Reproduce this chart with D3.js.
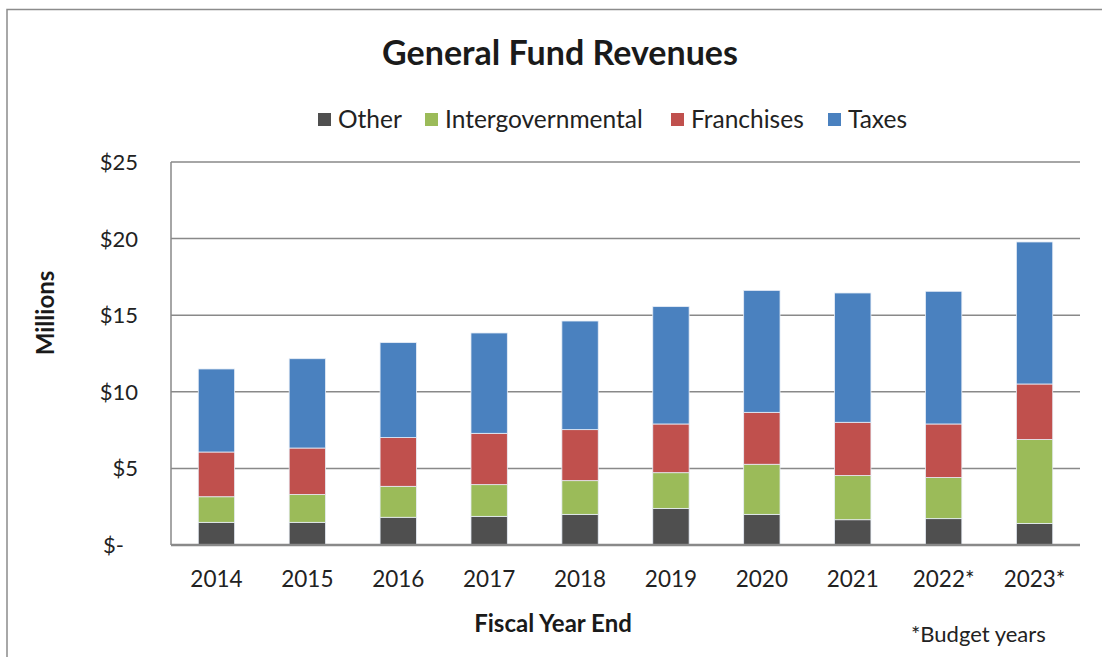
<!DOCTYPE html>
<html>
<head>
<meta charset="utf-8">
<script src="https://cdn.jsdelivr.net/npm/d3@7/dist/d3.min.js"></script>
<style>
  body { margin: 0; background: #fff; }
  svg { display: block; font-family: Lato, "Open Sans", sans-serif; }
</style>
</head>
<body>
<svg id="chart" width="1102" height="657"></svg>
<script>
// values in millions
var years = ["2014", "2015", "2016", "2017", "2018", "2019", "2020", "2021", "2022*", "2023*"];
var other = [1.48, 1.48, 1.81, 1.87, 2.00, 2.39, 2.00, 1.65, 1.72, 1.41];
var intergovernmental = [1.67, 1.81, 2.02, 2.07, 2.20, 2.33, 3.27, 2.88, 2.68, 5.47];
var franchises = [2.92, 3.04, 3.18, 3.35, 3.33, 3.18, 3.39, 3.48, 3.50, 3.63];
var taxes = [5.42, 5.83, 6.20, 6.55, 7.09, 7.66, 7.96, 8.44, 8.66, 9.27];
var seriesNames = ["Other", "Intergovernmental", "Franchises", "Taxes"];
var seriesColors = ["#4f4f4f", "#9bbb59", "#c0504d", "#4a81bf"];
var yTicks = [0, 5, 10, 15, 20, 25];

var svg = d3.select("#chart");
var margin = {left: 171, right: 22, top: 162, bottom: 112};
var width = 1102 - margin.left - margin.right;
var height = 657 - margin.top - margin.bottom;

// outer chart frame (only top and left edges show)
svg.append("path")
	.attr("d", "M7,657 L7,9.5 L1102,9.5")
	.attr("fill", "none")
	.attr("stroke", "#8c8c8c")
	.attr("stroke-width", 1.5);

var rows = years.map(function(y, i){
	return {year: y, Other: other[i], Intergovernmental: intergovernmental[i], Franchises: franchises[i], Taxes: taxes[i]};
});
var stacked = d3.stack().keys(seriesNames)(rows);

var x = d3.scaleBand().domain(years).range([0, width]).paddingInner(0.6).paddingOuter(0.3);
var y = d3.scaleLinear().domain([0, 25]).range([height, 0]);
var color = d3.scaleOrdinal().domain(seriesNames).range(seriesColors);

var g = svg.append("g").attr("transform", "translate(" + margin.left + "," + margin.top + ")");

// gridlines
g.selectAll(".grid").data(yTicks.slice(1)).enter().append("line")
	.attr("x1", 0).attr("x2", width)
	.attr("y1", function(d){ return y(d); })
	.attr("y2", function(d){ return y(d); })
	.attr("stroke", "#898989")
	.attr("stroke-width", 1.5);

// bars
g.selectAll(".series").data(stacked).enter().append("g")
	.attr("fill", function(d){ return color(d.key); })
	.selectAll("rect").data(function(d){ return d; }).enter().append("rect")
	.attr("x", function(d){ return x(d.data.year); })
	.attr("y", function(d){ return y(d[1]); })
	.attr("width", x.bandwidth())
	.attr("height", function(d){ return y(d[0]) - y(d[1]); })
	.attr("stroke", "#e8eef7")
	.attr("stroke-width", 0.8);

// axes lines
g.append("line").attr("x1", 0).attr("x2", 0).attr("y1", 0).attr("y2", height)
	.attr("stroke", "#898989").attr("stroke-width", 1.5);
g.append("line").attr("x1", 0).attr("x2", width).attr("y1", height).attr("y2", height)
	.attr("stroke", "#898989").attr("stroke-width", 2.5);

// y tick labels
g.selectAll(".ylab").data(yTicks).enter().append("text")
	.attr("x", function(d){ return d === 0 ? -47 : -33; })
	.attr("y", function(d){ return y(d); })
	.attr("dy", "0.36em")
	.attr("text-anchor", "end")
	.attr("font-size", 22)
	.attr("fill", "#222")
	.text(function(d){ return d === 0 ? "$-" : "$" + d; });

// x tick labels
g.selectAll(".xlab").data(years).enter().append("text")
	.attr("x", function(d){ return x(d) + x.bandwidth() / 2; })
	.attr("y", height + 42)
	.attr("text-anchor", "middle")
	.attr("font-size", 22.5)
	.attr("fill", "#222")
	.text(function(d){ return d; });

// titles
svg.append("text")
	.attr("x", 560).attr("y", 65)
	.attr("text-anchor", "middle")
	.attr("font-size", 34).attr("font-weight", "bold")
	.attr("fill", "#1a1a1a")
	.text("General Fund Revenues");

svg.append("text")
	.attr("x", 553).attr("y", 632)
	.attr("text-anchor", "middle")
	.attr("font-size", 24).attr("font-weight", "bold")
	.attr("fill", "#1a1a1a")
	.text("Fiscal Year End");

svg.append("text")
	.attr("transform", "translate(54,313) rotate(-90)")
	.attr("text-anchor", "middle")
	.attr("font-size", 24).attr("font-weight", "bold")
	.attr("fill", "#1a1a1a")
	.text("Millions");

svg.append("text")
	.attr("x", 911).attr("y", 642)
	.attr("font-size", 22)
	.attr("fill", "#222")
	.text("*Budget years");

// legend
var legendX = [318, 425, 671, 828];
var legend = svg.selectAll(".legend").data(seriesNames).enter().append("g")
	.attr("transform", function(d, i){ return "translate(" + legendX[i] + ",113)"; });
legend.append("rect")
	.attr("width", 13).attr("height", 13)
	.attr("fill", function(d){ return color(d); });
legend.append("text")
	.attr("x", 20).attr("y", 6.5).attr("dy", "0.36em")
	.attr("font-size", 24.5)
	.attr("fill", "#222")
	.text(function(d){ return d; });
</script>
</body>
</html>
